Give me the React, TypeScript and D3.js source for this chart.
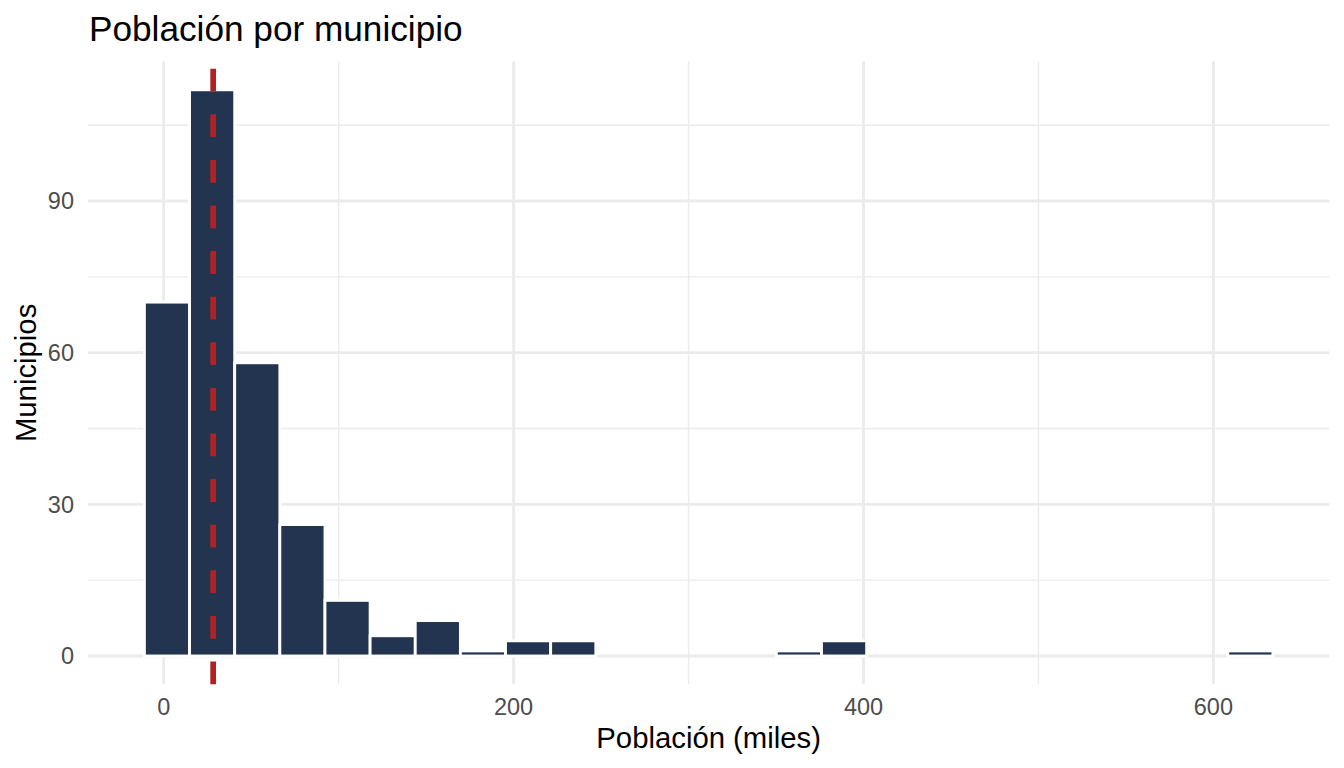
import * as d3 from 'd3';

// Histogram of municipal population (thousands), 25 bins
const binStart = -11;
const binWidth = 25.8;
const binCounts = [70, 112, 58, 26, 11, 4, 7, 1, 3, 3, 0, 0, 0, 0, 1, 3, 0, 0, 0, 0, 0, 0, 0, 0, 1];
const medianValue = 28.3;

const xTicks = [0, 200, 400, 600];
const xMinor = [100, 300, 500];
const yTicks = [0, 30, 60, 90];
const yMinor = [15, 45, 75, 105];

const title = 'Población por municipio';
const xTitle = 'Población (miles)';
const yTitle = 'Municipios';

const width = 1344;
const height = 768;
const panel = { left: 88, right: 1329.3, top: 61.5, bottom: 684.3 };

const font = '"Liberation Sans", Arial, Helvetica, sans-serif';
const barFill = '#233451';
const lineRed = '#B22222';
const gridColor = '#EBEBEB';

const App = () => {
  const bins = binCounts.map((count, i) => ({
    x0: binStart + i * binWidth,
    x1: binStart + (i + 1) * binWidth,
    count,
  }));

  const xLo = bins[0].x0;
  const xHi = bins[bins.length - 1].x1;
  const xPad = (xHi - xLo) * 0.05;
  const x = d3.scaleLinear()
    .domain([xLo - xPad, xHi + xPad])
    .range([panel.left, panel.right]);

  const yMax = d3.max(binCounts) ?? 0;
  const yPad = yMax * 0.05;
  const y = d3.scaleLinear()
    .domain([-yPad, yMax + yPad])
    .range([panel.bottom, panel.top]);

  const midY = (panel.top + panel.bottom) / 2;

  return (
    <svg
      width={width}
      height={height}
      style={{ position: 'absolute', left: 0, top: 0, background: '#fff' }}
      fontFamily={font}
    >
      {/* minor grid */}
      {xMinor.map((t) => (
        <line key={'xm' + t} x1={x(t)} x2={x(t)} y1={panel.top} y2={panel.bottom}
          stroke={gridColor} strokeWidth={1.42} />
      ))}
      {yMinor.map((t) => (
        <line key={'ym' + t} x1={panel.left} x2={panel.right} y1={y(t)} y2={y(t)}
          stroke={gridColor} strokeWidth={1.42} />
      ))}
      {/* major grid */}
      {xTicks.map((t) => (
        <line key={'xg' + t} x1={x(t)} x2={x(t)} y1={panel.top} y2={panel.bottom}
          stroke={gridColor} strokeWidth={2.85} />
      ))}
      {yTicks.map((t) => (
        <line key={'yg' + t} x1={panel.left} x2={panel.right} y1={y(t)} y2={y(t)}
          stroke={gridColor} strokeWidth={2.85} />
      ))}

      {/* bars */}
      {bins.map((b, i) => (
        <rect
          key={i}
          x={x(b.x0)}
          y={y(b.count)}
          width={x(b.x1) - x(b.x0)}
          height={y(0) - y(b.count)}
          fill={barFill}
          stroke="#fff"
          strokeWidth={2.85}
        />
      ))}

      {/* median line, drawn bottom to top like ggplot */}
      <line
        x1={x(medianValue)}
        x2={x(medianValue)}
        y1={panel.bottom}
        y2={panel.top}
        stroke={lineRed}
        strokeWidth={5.7}
        strokeDasharray="22.8 22.8"
      />

      {/* tick labels */}
      {xTicks.map((t) => (
        <text key={'xt' + t} x={x(t)} y={714.5} textAnchor="middle"
          fontSize={23.5} fill="#4D4D4D">{t}</text>
      ))}
      {yTicks.map((t) => (
        <text key={'yt' + t} x={74} y={y(t)} dy="0.35em" textAnchor="end"
          fontSize={23.5} fill="#4D4D4D">{t}</text>
      ))}

      {/* titles */}
      <text x={(panel.left + panel.right) / 2} y={748} textAnchor="middle"
        fontSize={29.3} fill="#000">{xTitle}</text>
      <text transform={`translate(36,${midY}) rotate(-90)`} textAnchor="middle"
        fontSize={29.3} fill="#000">{yTitle}</text>
      <text x={panel.left + 1} y={41} fontSize={35.2} fill="#000">{title}</text>
    </svg>
  );
};

export default App;
